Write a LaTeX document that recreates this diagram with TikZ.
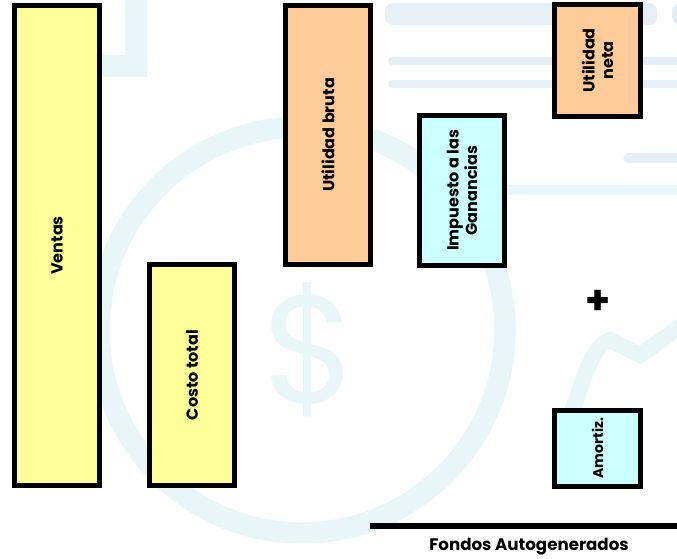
\documentclass[tikz,border=0pt]{standalone}
\usepackage{fontspec}
\setmainfont{Poppins}
\begin{document}
\begin{tikzpicture}[x=0.75pt,y=-0.75pt,
  wm/.style={draw=wmcol,line width=16.5pt,line cap=round},
  bar/.style={draw=black,line width=3.75pt,inner sep=0pt,rotate=90,
    font=\bfseries\fontsize{12}{14}\selectfont,align=center},
  ventabox/.style={bar,fill=ventacol},
  utilbox/.style={bar,fill=utilcol},
  restbox/.style={bar,fill=restcol}]
\definecolor{wmcol}{RGB}{232,246,248}
\definecolor{wmbar}{RGB}{230,240,244}
\definecolor{ventacol}{RGB}{255,255,153}
\definecolor{utilcol}{RGB}{255,204,153}
\definecolor{restcol}{RGB}{204,255,255}
\useasboundingbox[fill=white] (0,0) rectangle (677,558);

% faint background emblem
\begin{scope}
  \draw[wm,line width=16pt] (302,330) circle (203);
  \draw[wm] (100,66) -- (136,66) -- (136,0);
  \fill[wmbar,rounded corners=6pt] (385,3) rectangle (657,25);
  \fill[wmbar,rounded corners=6pt] (672,3) rectangle (690,25);
  \draw[wmbar,line width=6pt,line cap=round] (392,61) -- (690,61);
  \draw[wmbar,line width=6pt,line cap=round] (392,84) -- (690,84);
  \draw[wmbar,line width=7pt,line cap=round] (628,158) -- (690,158);
  \draw[wmcol,line width=7pt,line cap=round] (505,190) -- (690,190);
  \draw[wm,line width=12pt,line cap=butt] (560,410) to[out=-60,in=200] (610,340) -- (640,355) -- (690,320);
  \draw[wm,line width=12pt] (690,420) arc[start angle=180,end angle=250,radius=60];
  \node[text=wmcol,font=\fontsize{115}{115}\selectfont] (dollar) at (310,350) {\$};
\end{scope}

% bars
\node[ventabox,minimum width=360pt,minimum height=63.75pt] (ventas) at (57,245.5) {Ventas};
\node[ventabox,minimum width=165.75pt,minimum height=63.75pt] (costo) at (192,375) {Costo total};
\node[utilbox,minimum width=194.25pt,minimum height=63.75pt] (bruta) at (328,135) {Utilidad bruta};
\node[restbox,minimum width=112.5pt,minimum height=63.75pt] (impuesto) at (462,190.5) {Impuesto a las\\Ganancias};
\node[utilbox,minimum width=84pt,minimum height=64.5pt] (neta) at (597.5,60.5) {Utilidad\\neta};
\node[restbox,minimum width=57pt,minimum height=64.5pt,font=\bfseries\fontsize{10.5}{12}\selectfont] (amortiz) at (597.5,448) {Amortiz.};

\node[font=\bfseries\fontsize{30}{30}\selectfont,inner sep=0pt] (plus) at (598,302) {+};

% total line and caption
\coordinate (lineL) at (370,526);
\coordinate (lineR) at (677,526);
\draw[line width=4.5pt] (lineL) -- (lineR);
\node[font=\bfseries\fontsize{12.5}{14}\selectfont,inner sep=0pt] (fondos) at (529,547) {Fondos Autogenerados};
\end{tikzpicture}
\end{document}
